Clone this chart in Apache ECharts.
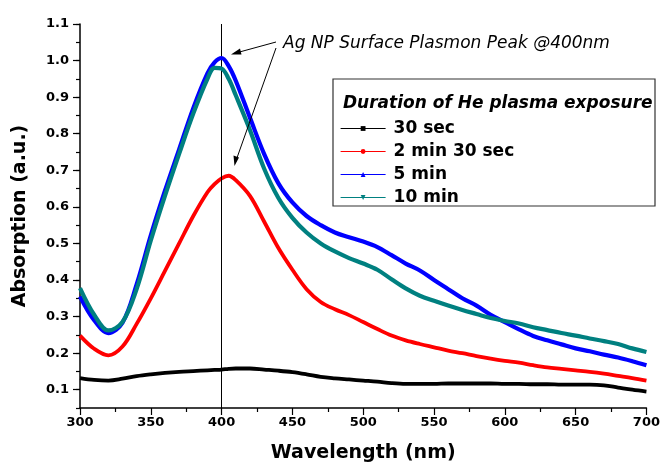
<!DOCTYPE html>
<html>
<head>
<meta charset="utf-8">
<script src="https://cdn.jsdelivr.net/npm/echarts@6/dist/echarts.min.js"></script>
<style>
html,body{margin:0;padding:0;background:#fff;}
#c{width:663px;height:470px;}
</style>
</head>
<body>
<div id="c"></div>
<script>
// Wavelength (nm)
const wavelength = [300,310,320,330,340,350,360,370,380,390,395,400,405,410,420,430,440,450,460,470,480,490,500,510,520,530,540,550,560,570,580,590,600,610,620,630,640,650,660,670,680,690,700];
// Absorption (a.u.)
const sec30   = [0.132,0.127,0.125,0.130,0.137,0.142,0.146,0.149,0.151,0.153,0.154,0.155,0.157,0.158,0.158,0.155,0.152,0.148,0.142,0.135,0.131,0.128,0.125,0.122,0.118,0.116,0.116,0.116,0.117,0.117,0.117,0.117,0.116,0.116,0.115,0.115,0.114,0.114,0.114,0.112,0.106,0.100,0.095];
const min2s30 = [0.248,0.212,0.194,0.218,0.280,0.350,0.425,0.500,0.575,0.640,0.662,0.678,0.685,0.673,0.630,0.560,0.488,0.428,0.375,0.340,0.320,0.304,0.285,0.266,0.248,0.235,0.225,0.216,0.207,0.200,0.192,0.185,0.179,0.174,0.167,0.161,0.157,0.153,0.149,0.144,0.138,0.132,0.125];
const min5    = [0.355,0.290,0.255,0.283,0.388,0.522,0.644,0.757,0.870,0.965,0.995,1.007,0.985,0.945,0.844,0.745,0.665,0.612,0.575,0.550,0.530,0.517,0.505,0.490,0.468,0.445,0.426,0.400,0.375,0.350,0.330,0.305,0.285,0.265,0.247,0.235,0.224,0.213,0.205,0.196,0.188,0.178,0.167];
const min10   = [0.378,0.305,0.262,0.285,0.375,0.508,0.630,0.745,0.855,0.950,0.980,0.978,0.950,0.905,0.810,0.705,0.625,0.570,0.530,0.500,0.478,0.460,0.445,0.428,0.402,0.377,0.357,0.343,0.330,0.318,0.307,0.296,0.288,0.281,0.271,0.263,0.255,0.248,0.240,0.233,0.225,0.213,0.203];
const seriesNames = ['30 sec','2 min 30 sec','5 min','10 min'];
const yTicks = [0.1,0.2,0.3,0.4,0.5,0.6,0.7,0.8,0.9,1.0,1.1];

const colors = ['#000000','#ff0000','#0000ff','#008080'];
const symbols = ['rect','circle','triangle','triangle'];
const allData = [sec30, min2s30, min5, min10];

const FONT = 'DejaVu Sans, Verdana, sans-serif';
const chart = echarts.init(document.getElementById('c'));

const series = allData.map((arr, i) => ({
  name: seriesNames[i],
  type: 'line',
  data: wavelength.map((w, k) => [w, arr[k]]),
  smooth: 0.35,
  showSymbol: false,
  symbol: symbols[i],
  symbolRotate: i === 3 ? 180 : 0,
  symbolSize: 4,
  lineStyle: { color: colors[i], width: i >= 2 ? 4.2 : 3.8 },
  itemStyle: { color: colors[i] },
  z: 3 + i,
  animation: false
}));
series[0].markLine = {
  silent: true,
  symbol: 'none',
  label: { show: false },
  lineStyle: { color: '#000', width: 1, type: 'solid' },
  data: [{ xAxis: 400 }],
  animation: false
};

chart.setOption({
  backgroundColor: '#fff',
  animation: false,
  grid: { left: 80, right: 11, top: 24, bottom: 62 },
  xAxis: {
    type: 'value', min: 300, max: 700, interval: 50,
    name: 'Wavelength (nm)', nameLocation: 'middle', nameGap: 36,
    nameTextStyle: { fontFamily: FONT, fontWeight: 'bold', fontSize: 19, color: '#000' },
    axisLine: { lineStyle: { color: '#000', width: 1.5 } },
    axisTick: { length: 7, lineStyle: { color: '#000', width: 1.2 } },
    minorTick: { show: true, splitNumber: 2, length: 4, lineStyle: { color: '#000', width: 1.2 } },
    axisLabel: { fontFamily: FONT, fontWeight: 'bold', fontSize: 13, color: '#000', margin: 8 },
    splitLine: { show: false }
  },
  yAxis: [{
    type: 'value', min: 0.05, max: 1.1, interval: 0.05,
    axisLine: { show: true, lineStyle: { color: '#000', width: 1.5 } },
    axisTick: { show: true, length: 4, lineStyle: { color: '#000', width: 1.2 } },
    axisLabel: { show: false },
    splitLine: { show: false }
  }, {
    type: 'value', min: 0.05, max: 1.1, position: 'left',
    name: 'Absorption (a.u.)', nameLocation: 'middle', nameGap: 50,
    nameTextStyle: { fontFamily: FONT, fontWeight: 'bold', fontSize: 19, color: '#000' },
    axisLine: { show: false },
    axisTick: { show: true, length: 7, customValues: yTicks, lineStyle: { color: '#000', width: 1.2 } },
    axisLabel: { show: true, customValues: yTicks, fontFamily: FONT, fontWeight: 'bold', fontSize: 13, color: '#000', margin: 11,
      formatter: v => v.toFixed(1) },
    splitLine: { show: false }
  }],
  legend: {
    orient: 'vertical', left: 340, top: 120, padding: 0,
    itemWidth: 45, itemHeight: 6, itemGap: 6,
    data: seriesNames,
    lineStyle: { width: 1.2 },
    textStyle: { fontFamily: FONT, fontWeight: 'bold', fontSize: 17, color: '#000', padding: [0,0,0,3] }
  },
  graphic: [
    { type: 'rect', shape: { x: 333, y: 79, width: 322, height: 127 }, style: { fill: 'rgba(255,255,255,0)', stroke: '#333', lineWidth: 1.2 }, z: 10 },
    { type: 'text', x: 343, y: 104, style: { text: 'Duration of He plasma exposure', fontFamily: FONT, fontWeight: 'bold', fontStyle: 'italic', fontSize: 17, fill: '#000', verticalAlign: 'middle' }, z: 10 },
    { type: 'text', x: 283, y: 44, style: { text: 'Ag NP Surface Plasmon Peak @400nm', fontFamily: FONT, fontStyle: 'italic', fontSize: 17, fill: '#000', verticalAlign: 'middle' }, z: 10 },
    { type: 'line', shape: { x1: 276, y1: 42, x2: 234, y2: 53.5 }, style: { stroke: '#000', lineWidth: 1 }, z: 10 },
    { type: 'polygon', shape: { points: [[231,54.5],[240,48.5],[241.5,54.5]] }, style: { fill: '#000' }, z: 10 },
    { type: 'line', shape: { x1: 276, y1: 48, x2: 235.5, y2: 162 }, style: { stroke: '#000', lineWidth: 1 }, z: 10 },
    { type: 'polygon', shape: { points: [[234.5,166],[233.5,155.5],[239,157.5]] }, style: { fill: '#000' }, z: 10 }
  ],
  series: series
});
</script>
</body>
</html>
